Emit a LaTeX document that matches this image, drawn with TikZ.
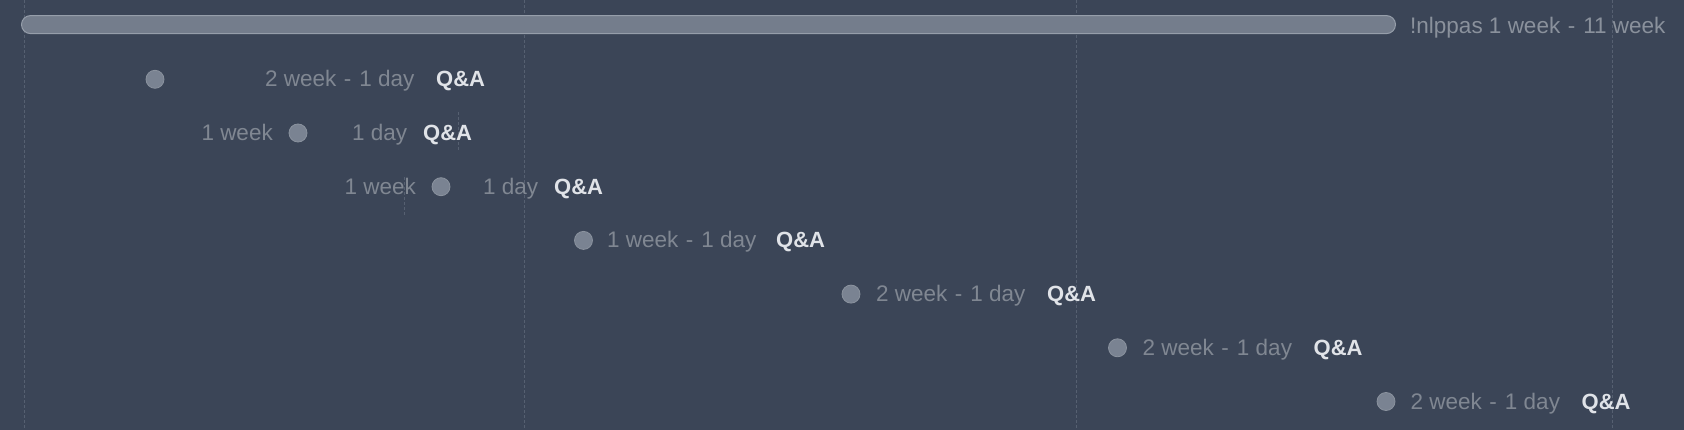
\documentclass[tikz,border=0pt]{standalone}
\usepackage{fontspec}
\setmainfont{Liberation Sans}
\definecolor{bgc}{RGB}{59,69,87}
\definecolor{gridc}{RGB}{86,96,113}
\definecolor{barfill}{RGB}{116,125,140}
\definecolor{bardraw}{RGB}{150,158,170}
\definecolor{msfill}{RGB}{122,131,146}
\definecolor{msdraw}{RGB}{138,146,158}
\definecolor{lblc}{RGB}{128,135,146}
\definecolor{toplblc}{RGB}{138,145,156}
\definecolor{qac}{RGB}{224,227,232}
\newcommand\wdash{\hspace{7.5pt}-\hspace{8pt}}
\begin{document}
\begin{tikzpicture}[x=1pt,y=-1pt,
  lbl/.style={text=lblc, font=\fontsize{22.5}{26}\selectfont, inner sep=0pt, anchor=base west},
  lble/.style={lbl, anchor=base east},
  toplbl/.style={lbl, text=toplblc},
  qa/.style={text=qac, font=\fontsize{22}{26}\selectfont\bfseries, inner sep=0pt, anchor=base west},
  ms/.style={circle, fill=msfill, draw=msdraw, line width=0.8pt, minimum size=18pt, inner sep=0pt},
  gline/.style={draw=gridc, line width=1pt, dash pattern=on 3pt off 2pt},
  barbox/.style={fill=barfill, draw=bardraw, line width=1pt, rounded corners=9pt, inner sep=0pt}]
\fill[bgc] (0,0) rectangle (1684,430);
\useasboundingbox (0,0) rectangle (1684,430);
% grid lines
\coordinate (g1t) at (24,0);   \coordinate (g1b) at (24,430);
\coordinate (g2t) at (524,0);  \coordinate (g2b) at (524,430);
\coordinate (g3t) at (1076,0); \coordinate (g3b) at (1076,430);
\coordinate (g4t) at (1612,0); \coordinate (g4b) at (1612,430);
\coordinate (g5t) at (458,112); \coordinate (g5b) at (458,150);
\coordinate (g6t) at (404,177); \coordinate (g6b) at (404,215);
\draw[gline] (g1t) -- (g1b);
\draw[gline] (g2t) -- (g2b);
\draw[gline] (g3t) -- (g3b);
\draw[gline] (g4t) -- (g4b);
\draw[gline] (g5t) -- (g5b);
\draw[gline] (g6t) -- (g6b);
% summary bar
\node[barbox, minimum width=1374pt, minimum height=18pt, anchor=west] (bar) at (21,24.6) {};
\node[toplbl] (sumlbl) at (1410,33.3) {!nlppas 1 week\wdash 11 week};
% row 1
\node[ms] (m1) at (155,79.3) {};
\node[lbl] (t1) at (265,86.8) {2 week\wdash 1 day};
\node[qa] (q1) at (436,86.8) {Q\&A};
% row 2
\node[lble] (w2) at (273,140.5) {1 week};
\node[ms] (m2) at (298,133) {};
\node[lbl] (d2) at (352,140.5) {1 day};
\node[qa] (q2) at (423,140.5) {Q\&A};
% row 3
\node[lble] (w3) at (416,194.2) {1 week};
\node[ms] (m3) at (441,186.7) {};
\node[lbl] (d3) at (483,194.2) {1 day};
\node[qa] (q3) at (554,194.2) {Q\&A};
% row 4
\node[ms] (m4) at (583.5,240.4) {};
\node[lbl] (t4) at (607,247.9) {1 week\wdash 1 day};
\node[qa] (q4) at (776,247.9) {Q\&A};
% row 5
\node[ms] (m5) at (851,294.1) {};
\node[lbl] (t5) at (876,301.6) {2 week\wdash 1 day};
\node[qa] (q5) at (1047,301.6) {Q\&A};
% row 6
\node[ms] (m6) at (1117.5,347.8) {};
\node[lbl] (t6) at (1142.5,355.3) {2 week\wdash 1 day};
\node[qa] (q6) at (1313.5,355.3) {Q\&A};
% row 7
\node[ms] (m7) at (1386,401.5) {};
\node[lbl] (t7) at (1410.5,409) {2 week\wdash 1 day};
\node[qa] (q7) at (1581.5,409) {Q\&A};
\end{tikzpicture}
\end{document}
